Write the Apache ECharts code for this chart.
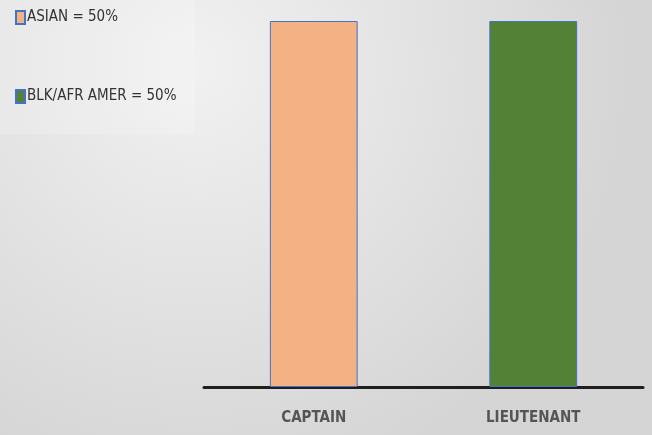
<!DOCTYPE html>
<html>
<head>
<meta charset="utf-8">
<title>Captain / Lieutenant</title>
<script src="https://cdn.jsdelivr.net/npm/echarts@6/dist/echarts.min.js"></script>
<style>
  html, body { margin: 0; padding: 0; }
  #chart { width: 652px; height: 435px; }
</style>
</head>
<body>
<div id="chart"></div>
<script>
var categories = ['CAPTAIN', 'LIEUTENANT'];
var seriesNames = ['ASIAN = 50%', 'BLK/AFR AMER = 50%'];
var asianValues = [1, null];
var blackValues = [null, 1];

var font = '"Liberation Sans Narrow", "DejaVu Sans Condensed", sans-serif';

var chart = echarts.init(document.getElementById('chart'));

chart.setOption({
  backgroundColor: {
    type: 'radial', x: 0.3, y: 0.15, r: 1.0,
    colorStops: [
      { offset: 0, color: '#f1f1f1' },
      { offset: 1, color: '#d5d5d5' }
    ]
  },
  graphic: [{
    type: 'rect',
    left: 0, top: 0,
    shape: { width: 195, height: 134 },
    style: { fill: 'rgba(255,255,255,0.18)' },
    silent: true
  }],
  legend: {
    orient: 'vertical',
    left: 10,
    top: 5,
    itemGap: 64,
    itemWidth: 9,
    itemHeight: 13,
    icon: 'rect',
    textStyle: { fontFamily: font, fontSize: 15, color: '#333', padding: [0, 0, 0, -3] },
    data: seriesNames
  },
  grid: { left: 204, right: 9, top: 21, bottom: 48 },
  xAxis: {
    type: 'category',
    data: categories,
    axisLine: { lineStyle: { color: '#1f1f1f', width: 3 } },
    axisTick: { show: false },
    axisLabel: { margin: 24, fontFamily: font, fontSize: 15, fontWeight: 'bold', color: '#555' }
  },
  yAxis: {
    type: 'value',
    min: 0, max: 1,
    show: false
  },
  series: [{
    name: seriesNames[0],
    type: 'bar',
    stack: 'all',
    barWidth: '40%',
    data: asianValues,
    itemStyle: { color: '#f4b183', borderColor: '#4472c4', borderWidth: 1 }
  }, {
    name: seriesNames[1],
    type: 'bar',
    stack: 'all',
    barWidth: '40%',
    data: blackValues,
    itemStyle: { color: '#538135', borderColor: '#4472c4', borderWidth: 1 }
  }]
});
</script>
</body>
</html>
